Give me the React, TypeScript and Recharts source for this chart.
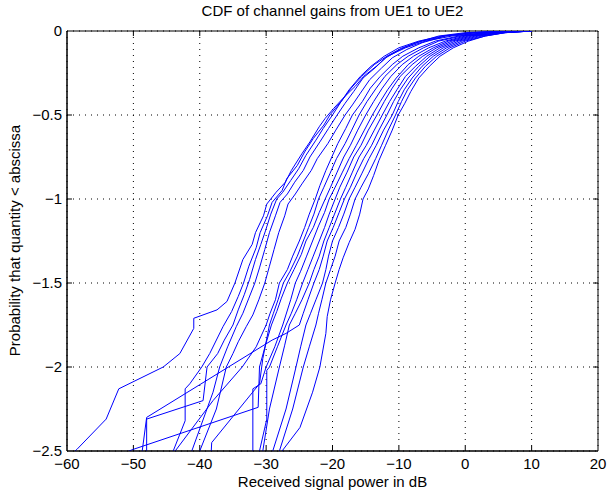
import { LineChart, Line, XAxis, YAxis, CartesianGrid, ReferenceArea, ReferenceLine } from 'recharts';

const curveL1 = [[8,0],[3,-0.01],[-2,-0.03],[-6,-0.06],[-9,-0.1],[-11.7,-0.15],[-13.4,-0.21],[-15.3,-0.27],[-16.6,-0.33],[-18.4,-0.4],[-19.8,-0.46],[-21.1,-0.52],[-22,-0.57],[-23.4,-0.66],[-24.6,-0.73],[-26.2,-0.83],[-27.1,-0.9],[-28.5,-0.96],[-29.9,-1.03],[-30.4,-1.1],[-31.6,-1.2],[-32.1,-1.27],[-33.5,-1.36],[-34.7,-1.5],[-35.9,-1.61],[-37.4,-1.66],[-40.9,-1.71],[-40.9,-1.77],[-43,-1.92],[-45.5,-2.0],[-52.2,-2.13],[-54.1,-2.31],[-58.5,-2.49],[-60.5,-2.56]];
const curveL2 = [[7,0],[2,-0.01],[-3,-0.03],[-6.5,-0.06],[-9.5,-0.1],[-11.8,-0.15],[-13.7,-0.2],[-15.6,-0.27],[-17.2,-0.34],[-18.5,-0.41],[-20.4,-0.5],[-21.3,-0.56],[-22.9,-0.64],[-24.2,-0.72],[-25.3,-0.8],[-26.9,-0.88],[-27.6,-0.95],[-29.1,-1.02],[-29.8,-1.1],[-30.9,-1.2],[-31.5,-1.29],[-32.6,-1.4],[-33.4,-1.5],[-34.2,-1.58],[-35.2,-1.67],[-36.5,-1.76],[-38.5,-1.92],[-39.7,-2.0],[-41.5,-2.1],[-42.2,-2.13],[-42.2,-2.32],[-44,-2.5],[-45,-2.58]];
const curveL3 = [[6,0],[1,-0.01],[-3.5,-0.03],[-7,-0.06],[-10,-0.1],[-12.2,-0.15],[-14.2,-0.21],[-15.8,-0.27],[-17.5,-0.35],[-18.7,-0.42],[-20,-0.5],[-21.4,-0.58],[-22.5,-0.65],[-24,-0.74],[-25.1,-0.82],[-26.3,-0.89],[-27.5,-0.96],[-28.4,-1.0],[-29.3,-1.09],[-30.1,-1.19],[-30.8,-1.27],[-31.6,-1.36],[-32.5,-1.48],[-33.3,-1.57],[-34.2,-1.66],[-35,-1.75],[-36.3,-1.84],[-37.3,-1.92],[-38.9,-2.0],[-39.5,-2.2],[-48,-2.31],[-48,-2.6]];
const curveL4 = [[6,0],[0,-0.01],[-4,-0.03],[-7.5,-0.07],[-9.8,-0.11],[-12,-0.16],[-13.6,-0.22],[-15.4,-0.28],[-16.8,-0.36],[-18.1,-0.43],[-19.3,-0.5],[-20.6,-0.58],[-21.9,-0.66],[-23.4,-0.75],[-24.4,-0.83],[-25.7,-0.9],[-26.8,-0.97],[-27.9,-1.02],[-28.6,-1.1],[-29.5,-1.2],[-30.2,-1.3],[-31,-1.41],[-31.7,-1.5],[-32.6,-1.59],[-33.5,-1.68],[-34.5,-1.76],[-35.8,-1.88],[-37,-2.0],[-38,-2.15],[-41.2,-2.5],[-42,-2.57]];
const curveL5 = [[7,0],[1,-0.01],[-3,-0.03],[-6.5,-0.07],[-8.8,-0.11],[-11,-0.16],[-12.6,-0.22],[-14.4,-0.29],[-15.8,-0.37],[-17,-0.44],[-18.1,-0.5],[-19.5,-0.59],[-20.7,-0.67],[-22.3,-0.76],[-23.2,-0.83],[-24.6,-0.91],[-25.6,-0.97],[-26.7,-1.03],[-27.2,-1.1],[-28.1,-1.2],[-28.8,-1.3],[-29.5,-1.4],[-30.2,-1.5],[-31.1,-1.6],[-32,-1.69],[-33,-1.76],[-34.2,-1.85],[-35,-1.92],[-36,-2.0],[-37.5,-2.25],[-40,-2.5],[-40.6,-2.56]];
const curveR1 = [[8,0],[3,-0.01],[-1,-0.03],[-4.5,-0.06],[-7,-0.1],[-9.4,-0.15],[-11,-0.2],[-12.8,-0.27],[-14.3,-0.34],[-15.5,-0.42],[-17,-0.5],[-18,-0.58],[-19.2,-0.67],[-20.1,-0.75],[-21,-0.83],[-21.9,-0.92],[-22.6,-1.0],[-23.5,-1.09],[-24.2,-1.17],[-25,-1.25],[-26,-1.34],[-26.8,-1.42],[-28,-1.5],[-28.6,-1.6],[-29.4,-1.68],[-30,-1.75],[-31.5,-1.88],[-33.6,-2.0],[-38,-2.2],[-43.7,-2.5],[-44.6,-2.55]];
const curveR2 = [[9,0],[4,-0.01],[0,-0.03],[-3,-0.06],[-5.5,-0.1],[-7.8,-0.15],[-9.5,-0.2],[-11.2,-0.27],[-12.5,-0.34],[-13.8,-0.42],[-15,-0.5],[-16.2,-0.59],[-17.3,-0.68],[-18.3,-0.75],[-19.3,-0.84],[-20.3,-0.93],[-21.1,-1.0],[-22,-1.08],[-22.9,-1.17],[-24,-1.25],[-24.7,-1.33],[-25.8,-1.42],[-26.8,-1.5],[-27.7,-1.59],[-28.4,-1.67],[-29.2,-1.75],[-30.1,-1.87],[-31,-2.0],[-31.2,-2.24],[-50,-2.49],[-52,-2.52]];
const curveR3 = [[9,0],[4.5,-0.01],[0.5,-0.03],[-2.5,-0.06],[-4.8,-0.1],[-7,-0.15],[-8.6,-0.2],[-10.4,-0.28],[-11.7,-0.35],[-12.8,-0.42],[-14,-0.5],[-15.2,-0.59],[-16.4,-0.68],[-17.5,-0.76],[-18.5,-0.84],[-19.6,-0.93],[-20.5,-1.0],[-21.2,-1.08],[-22.1,-1.16],[-23,-1.25],[-23.9,-1.34],[-24.8,-1.43],[-25.6,-1.5],[-26.3,-1.6],[-27.5,-1.75],[-28.7,-1.88],[-30,-2.0],[-30.8,-2.1],[-32,-2.13],[-32,-2.6]];
const curveR4 = [[9.5,0],[5,-0.01],[1,-0.03],[-2,-0.06],[-4.3,-0.1],[-6.4,-0.15],[-8,-0.2],[-9.8,-0.27],[-11,-0.34],[-12.2,-0.42],[-13.3,-0.5],[-14.6,-0.59],[-15.7,-0.68],[-16.8,-0.75],[-17.8,-0.84],[-18.9,-0.93],[-19.6,-1.0],[-20.5,-1.09],[-21.2,-1.17],[-22,-1.25],[-22.9,-1.34],[-23.7,-1.42],[-24.5,-1.5],[-25.4,-1.6],[-26.2,-1.68],[-27,-1.75],[-28.3,-1.88],[-29.5,-2.0],[-29.9,-2.02],[-29.9,-2.31],[-31,-2.5],[-31.5,-2.58]];
const curveR5 = [[10,0],[5,-0.01],[1.5,-0.03],[-1.5,-0.06],[-3.8,-0.1],[-5.8,-0.15],[-7.5,-0.21],[-9,-0.27],[-10.3,-0.35],[-11.4,-0.42],[-12.5,-0.5],[-13.7,-0.59],[-14.9,-0.68],[-16,-0.75],[-17,-0.84],[-18,-0.93],[-18.8,-1.0],[-19.7,-1.09],[-20.5,-1.17],[-21.3,-1.25],[-22,-1.34],[-22.8,-1.42],[-23.5,-1.5],[-24.6,-1.6],[-25.6,-1.68],[-26.5,-1.75],[-27.2,-1.87],[-28,-2.0],[-29.5,-2.25],[-30.5,-2.5],[-30.8,-2.58]];
const curveR6 = [[10,0],[5.5,-0.01],[2,-0.03],[-1,-0.06],[-3.3,-0.1],[-5.3,-0.15],[-7,-0.21],[-8.6,-0.28],[-9.8,-0.35],[-10.8,-0.42],[-11.8,-0.5],[-13,-0.59],[-14.1,-0.68],[-15.3,-0.76],[-16.3,-0.84],[-17.3,-0.93],[-18.2,-1.0],[-19,-1.08],[-19.9,-1.17],[-20.8,-1.25],[-21.4,-1.34],[-22,-1.42],[-22.8,-1.5],[-23.7,-1.6],[-24.4,-1.68],[-25,-1.75],[-27,-1.8],[-29.1,-1.84],[-48,-2.3],[-49,-2.6]];
const curveR7 = [[10,0],[6,-0.01],[2.5,-0.03],[-0.5,-0.06],[-2.8,-0.1],[-4.8,-0.15],[-6.5,-0.21],[-8,-0.28],[-9.2,-0.35],[-10.1,-0.42],[-11,-0.5],[-12.3,-0.59],[-13.4,-0.68],[-14.5,-0.76],[-15.6,-0.85],[-16.6,-0.93],[-17.5,-1.0],[-18.3,-1.09],[-19.1,-1.17],[-20,-1.25],[-20.6,-1.34],[-21,-1.42],[-21.5,-1.5],[-22.5,-1.6],[-23.3,-1.68],[-24,-1.75],[-24.8,-1.88],[-25.5,-2.0],[-27,-2.25],[-29,-2.5],[-29.6,-2.58]];
const curveR8 = [[10,0],[6,-0.01],[3,-0.03],[0,-0.06],[-2.3,-0.1],[-4.3,-0.15],[-6,-0.21],[-7.5,-0.28],[-8.7,-0.35],[-9.6,-0.42],[-10.5,-0.5],[-11.6,-0.59],[-12.6,-0.68],[-13.5,-0.76],[-14.6,-0.85],[-15.7,-0.93],[-16.6,-1.0],[-17.3,-1.09],[-18,-1.17],[-19,-1.25],[-19.6,-1.34],[-20.3,-1.42],[-21,-1.5],[-21.6,-1.6],[-22.1,-1.68],[-22.5,-1.75],[-23.5,-1.88],[-24.4,-2.0],[-26,-2.25],[-28,-2.5],[-28.6,-2.57]];
const curveR9 = [[10,0],[6,-0.01],[3,-0.03],[0.5,-0.06],[-1.8,-0.1],[-3.8,-0.15],[-5.4,-0.21],[-7,-0.28],[-8.2,-0.36],[-9.1,-0.43],[-10.1,-0.5],[-11,-0.59],[-12,-0.68],[-13,-0.77],[-13.8,-0.86],[-14.6,-0.94],[-15.4,-1.0],[-15.9,-1.09],[-16.6,-1.18],[-17.5,-1.26],[-18.4,-1.35],[-19,-1.42],[-19.6,-1.5],[-20.3,-1.6],[-20.8,-1.7],[-21,-1.8],[-21.9,-2.0],[-23,-2.15],[-24.9,-2.36],[-27.6,-2.5],[-28.5,-2.56]];
const curveR10 = [[9,0],[3.5,-0.01],[-0.5,-0.03],[-4,-0.06],[-6.3,-0.1],[-8.6,-0.15],[-10.3,-0.2],[-12.1,-0.27],[-13.4,-0.34],[-14.8,-0.42],[-16,-0.5],[-17.1,-0.59],[-18.1,-0.67],[-19.4,-0.76],[-20.4,-0.85],[-21.3,-0.93],[-22.1,-1.0],[-22.8,-1.09],[-23.6,-1.17],[-24.4,-1.25],[-25.3,-1.34],[-26.4,-1.43],[-27.4,-1.5],[-28.2,-1.6],[-28.9,-1.68],[-29.5,-1.75],[-30.5,-1.95],[-31,-2.1],[-38.2,-2.45],[-38.4,-2.6]];

const curves = [curveL1, curveL2, curveL3, curveL4, curveL5, curveR1, curveR2, curveR3, curveR4, curveR5, curveR6, curveR7, curveR8, curveR9, curveR10];

const xTicks = [-60, -50, -40, -30, -20, -10, 0, 10, 20];
const yTicks = [-2.5, -2, -1.5, -1, -0.5, 0];

const FONT = '"Liberation Sans", Arial, Helvetica, sans-serif';
const fmt = (v: number) => String(v).replace('-', '\u2212');

// inward tick marks like MATLAB (about 5px long)
const X_MIN = -60, X_MAX = 20, Y_MIN = -2.5, Y_MAX = 0;
const xTickLen = 0.75;
const yTickLen = 0.03;

const App = () => {
  const series = curves.map((c) => c.map(([x, y]) => ({ x, y })));
  const tickStyle = { fill: '#000', fontSize: 15, fontFamily: FONT };

  return (
    <div style={{ position: 'absolute', left: 0, top: 0, width: 608, height: 495, background: '#fff', fontFamily: FONT }}>
      <div style={{ position: 'absolute', left: 67, width: 531, top: 2, textAlign: 'center', fontSize: 15, color: '#000' }}>
        CDF of channel gains from UE1 to UE2
      </div>
      <div style={{ position: 'absolute', left: 67, width: 531, top: 473, textAlign: 'center', fontSize: 15, color: '#000' }}>
        Received signal power in dB
      </div>
      <div
        style={{
          position: 'absolute', left: 14, top: 241, width: 400, marginLeft: -200, marginTop: -9,
          textAlign: 'center', fontSize: 15, color: '#000', transform: 'rotate(-90deg)',
        }}
      >
        Probability that quantity &lt; abscissa
      </div>
      <LineChart width={608} height={495} margin={{ top: 31, right: 10, bottom: 0, left: 0 }} style={{ position: 'absolute', left: 0, top: 0 }}>
        <CartesianGrid xAxisId="main" yAxisId="main" stroke="#000" strokeDasharray="1 5" />
        <XAxis
          xAxisId="main"
          type="number"
          dataKey="x"
          domain={[X_MIN, X_MAX]}
          ticks={xTicks}
          allowDataOverflow
          height={44}
          tickLine={false}
          tickSize={0}
          tickMargin={7}
          tickFormatter={fmt}
          tick={tickStyle}
          axisLine={{ stroke: '#000' }}
        />
        <YAxis
          yAxisId="main"
          type="number"
          domain={[Y_MIN, Y_MAX]}
          ticks={yTicks}
          allowDataOverflow
          width={67}
          tickLine={false}
          tickSize={0}
          tickMargin={5}
          tickFormatter={fmt}
          tick={tickStyle}
          axisLine={{ stroke: '#000' }}
        />
        <ReferenceArea xAxisId="main" yAxisId="main" x1={X_MIN} x2={X_MAX} y1={Y_MIN} y2={Y_MAX} fill="none" stroke="#000" strokeWidth={1} ifOverflow="visible" />
        {xTicks.slice(1, -1).map((t) => (
          <ReferenceLine key={`xb-${t}`} xAxisId="main" yAxisId="main" stroke="#000" segment={[{ x: t, y: Y_MIN }, { x: t, y: Y_MIN + yTickLen }]} />
        ))}
        {xTicks.slice(1, -1).map((t) => (
          <ReferenceLine key={`xt-${t}`} xAxisId="main" yAxisId="main" stroke="#000" segment={[{ x: t, y: Y_MAX }, { x: t, y: Y_MAX - yTickLen }]} />
        ))}
        {yTicks.slice(1, -1).map((t) => (
          <ReferenceLine key={`yl-${t}`} xAxisId="main" yAxisId="main" stroke="#000" segment={[{ x: X_MIN, y: t }, { x: X_MIN + xTickLen, y: t }]} />
        ))}
        {yTicks.slice(1, -1).map((t) => (
          <ReferenceLine key={`yr-${t}`} xAxisId="main" yAxisId="main" stroke="#000" segment={[{ x: X_MAX, y: t }, { x: X_MAX - xTickLen, y: t }]} />
        ))}
        {series.map((d, i) => (
          <Line
            key={`curve-${i}`}
            xAxisId="main"
            yAxisId="main"
            data={d}
            dataKey="y"
            type="linear"
            stroke="#0000ff"
            strokeWidth={1}
            dot={false}
            activeDot={false}
            isAnimationActive={false}
          />
        ))}
      </LineChart>
    </div>
  );
};

export default App;
